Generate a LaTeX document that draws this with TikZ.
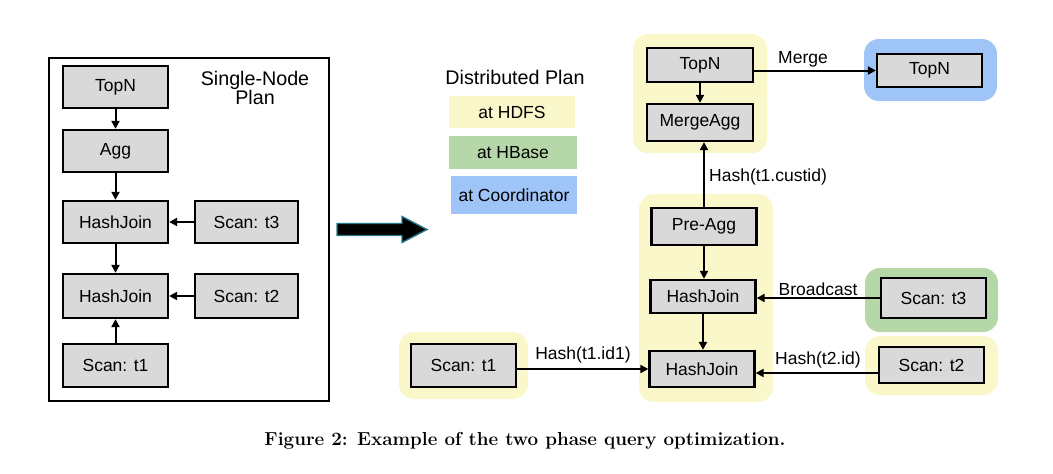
\documentclass[tikz,border=0pt]{standalone}
\usepackage{fontspec}
\newfontfamily\arial{Liberation Sans}
\usetikzlibrary{arrows.meta}
\definecolor{hdfs}{RGB}{250,248,203}
\definecolor{hbase}{RGB}{182,215,168}
\definecolor{coord}{RGB}{159,197,248}
\definecolor{boxgray}{RGB}{217,217,217}
\definecolor{teal2}{RGB}{40,120,140}
\tikzset{
  opbox/.style={draw=black, line width=2.3pt, fill=boxgray, minimum width=105, inner sep=0pt,
     font=\arial\fontsize{17.5}{21}\selectfont},
  arr/.style={line width=2pt, -{Triangle[length=8pt,width=8pt]}},
  lbl/.style={font=\arial\fontsize{17.5}{21}\selectfont, inner sep=0pt},
  title/.style={font=\arial\fontsize{19.7}{22}\selectfont, inner sep=0pt, align=center},
  grp/.style={rounded corners=15pt},
  legend/.style={font=\arial\fontsize{17.5}{21}\selectfont, inner sep=0pt}
}
\begin{document}
\begin{tikzpicture}[x=1pt,y=-1pt]
\useasboundingbox (0,0) rectangle (1053,474);
% ---------- left: single-node plan ----------
\draw[line width=2pt] (49,58) rectangle (329,401);
\node[title] (sntitle) at (255,88) {Single-Node\\[-3pt]Plan};
\node[opbox, minimum height=42] (lTop) at (115.5,87) {TopN};
\node[opbox, minimum height=42] (lAgg) at (115.5,151) {Agg};
\node[opbox, minimum height=42] (lHJ1) at (115.5,222) {HashJoin};
\node[opbox, minimum height=42, minimum width=103] (lS3) at (246.5,222) {Scan: t3};
\node[opbox, minimum height=44] (lHJ2) at (115.5,296) {HashJoin};
\node[opbox, minimum height=44, minimum width=103] (lS2) at (246.5,296) {Scan: t2};
\node[opbox, minimum height=43] (lS1) at (115.5,365.5) {Scan: t1};
\draw[arr] (lTop) -- (lAgg);
\draw[arr] (lAgg) -- (lHJ1);
\draw[arr] (lHJ1) -- (lHJ2);
\draw[arr] (lS1) -- (lHJ2);
\draw[arr] (lS3) -- (lHJ1);
\draw[arr] (lS2) -- (lHJ2);
% ---------- big arrow ----------
\draw[fill=black, draw=teal2, line width=1.4pt, line join=miter]
  (337,223.5) -- (402,223.5) -- (402,216.5) -- (427,229.5) -- (402,242.5) -- (402,235.5) -- (337,235.5) -- cycle;
% ---------- legend ----------
\node[title] (dtitle) at (515,77) {Distributed Plan};
\fill[hdfs] (449,96) rectangle (575,128);
\node[legend] (lgH) at (512,112) {at HDFS};
\fill[hbase] (449,136) rectangle (577,169);
\node[legend] (lgB) at (513,152.5) {at HBase};
\fill[coord] (451,176) rectangle (577,214);
\node[legend] (lgC) at (514,195) {at Coordinator};
% ---------- right: group backgrounds ----------
\fill[hdfs, grp] (633,34) rectangle (767,153);
\fill[coord, grp] (864,39) rectangle (997,101);
\fill[hdfs, grp] (639,194) rectangle (773,402);
\fill[hdfs, grp] (399,332) rectangle (528,399);
\fill[hbase, grp] (865,268) rectangle (998,332);
\fill[hdfs, grp] (865,336) rectangle (998,395);
% ---------- right: operators ----------
\node[opbox, minimum height=34, minimum width=106] (rTop) at (700,65) {TopN};
\node[opbox, minimum height=37, minimum width=106] (rMAgg) at (700,122.5) {MergeAgg};
\node[opbox, minimum height=33] (cTop) at (929.5,70.5) {TopN};
\node[opbox, minimum height=37] (rPre) at (704,226.5) {Pre-Agg};
\node[opbox, minimum height=33] (rHJ1) at (703,296.5) {HashJoin};
\node[opbox, minimum height=36] (rHJ2) at (702,369) {HashJoin};
\node[opbox, minimum height=43] (rS1) at (463.5,365.5) {Scan: t1};
\node[opbox, minimum height=40] (rS3) at (933.5,298) {Scan: t3};
\node[opbox, minimum height=36] (rS2) at (931.5,365) {Scan: t2};
\coordinate (s2out) at ([yshift=-8pt]rS2.west);
% ---------- right: connectors ----------
\draw[arr] (rTop) -- (rMAgg);
\draw[arr] (rTop.east |- cTop.west) -- (cTop.west);
\node[lbl] (mlbl) at (803,59) {Merge};
\draw[arr] (rPre.north) -- (rPre.north |- rMAgg.south);
\node[lbl, anchor=west] (clbl) at (709,177) {Hash(t1.custid)};
\draw[arr] (rPre.south) -- (rPre.south |- rHJ1.north);
\draw[arr] (rHJ1.south) -- (rHJ1.south |- rHJ2.north);
\draw[arr] (rS1.east |- rHJ2.west) -- (rHJ2.west);
\node[lbl] (t1lbl) at (583,355) {Hash(t1.id1)};
\draw[arr] (rS3.west) -- (rHJ1.east |- rS3.west);
\node[lbl] (blbl) at (818,289) {Broadcast};
\draw[arr] (s2out) -- (rHJ2.east |- s2out);
\node[lbl] (t2lbl) at (818,360) {Hash(t2.id)};
% ---------- caption ----------
\node[inner sep=0pt, font=\bfseries\fontsize{18.8}{22}\selectfont] (cap) at (525,441)
  {Figure 2: Example of the two phase query optimization.};
\end{tikzpicture}
\end{document}
